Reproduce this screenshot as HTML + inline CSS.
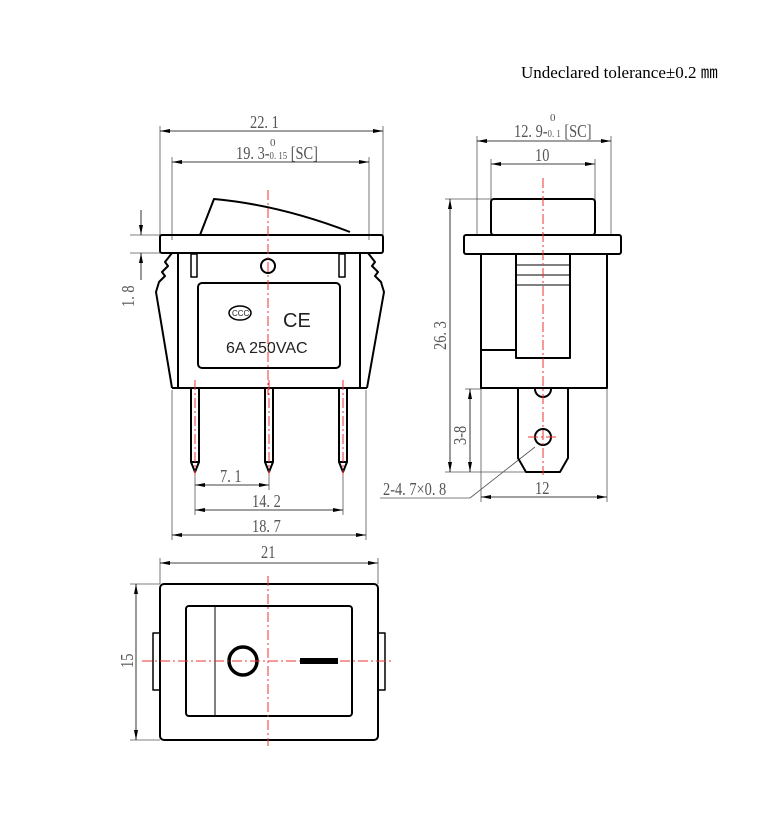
<!DOCTYPE html><html><head><style>body{margin:0;background:#fff}svg{display:block}</style></head><body>
<svg width="782" height="837" viewBox="0 0 782 837" xmlns="http://www.w3.org/2000/svg" font-family="Liberation Serif, serif">
<defs><marker id="a" viewBox="0 0 10 4" refX="10" refY="2" markerWidth="10" markerHeight="4" orient="auto-start-reverse" markerUnits="userSpaceOnUse"><path d="M0,0L10,2L0,4z" fill="#000"/></marker></defs>
<text x="521" y="78" font-size="17">Undeclared tolerance±0.2 ㎜</text>
<g stroke="#555" stroke-width="0.8" fill="none">
<line x1="160" y1="126" x2="160" y2="236"/><line x1="383" y1="126" x2="383" y2="236"/>
<line x1="172" y1="157" x2="172" y2="240"/><line x1="369" y1="157" x2="369" y2="240"/>
<line x1="130" y1="235" x2="160" y2="235"/><line x1="130" y1="253" x2="160" y2="253"/>
<line x1="172" y1="390" x2="172" y2="540"/><line x1="366" y1="390" x2="366" y2="540"/>
<line x1="195" y1="472" x2="195" y2="515"/><line x1="269" y1="472" x2="269" y2="490"/><line x1="343" y1="472" x2="343" y2="515"/>
<line x1="477" y1="136" x2="477" y2="236"/><line x1="611" y1="136" x2="611" y2="236"/>
<line x1="491" y1="159" x2="491" y2="200"/><line x1="595" y1="159" x2="595" y2="200"/>
<line x1="445" y1="199" x2="491" y2="199"/><line x1="445" y1="472" x2="530" y2="472"/><line x1="465" y1="389" x2="481" y2="389"/>
<line x1="481" y1="388" x2="481" y2="502"/><line x1="607" y1="388" x2="607" y2="502"/>
<line x1="535" y1="447" x2="470" y2="498"/><line x1="470" y1="498" x2="380" y2="498"/>
<line x1="160" y1="558" x2="160" y2="584"/><line x1="378" y1="558" x2="378" y2="584"/>
<line x1="130" y1="584" x2="160" y2="584"/><line x1="130" y1="740" x2="160" y2="740"/>
</g>
<g stroke="#000" stroke-width="0.8" marker-start="url(#a)" marker-end="url(#a)">
<line x1="160" y1="131" x2="383" y2="131"/><line x1="172" y1="162" x2="369" y2="162"/>
<line x1="195" y1="485" x2="269" y2="485"/><line x1="195" y1="510" x2="343" y2="510"/><line x1="172" y1="535" x2="366" y2="535"/>
<line x1="477" y1="141" x2="611" y2="141"/><line x1="491" y1="164" x2="595" y2="164"/>
<line x1="450" y1="199" x2="450" y2="472"/><line x1="470" y1="389" x2="470" y2="472"/><line x1="481" y1="497" x2="607" y2="497"/>
<line x1="160" y1="563" x2="378" y2="563"/><line x1="136" y1="584" x2="136" y2="740"/>
</g>
<g stroke="#000" stroke-width="0.8"><line x1="141" y1="210" x2="141" y2="235" marker-end="url(#a)"/><line x1="141" y1="280" x2="141" y2="253" marker-end="url(#a)"/></g>
<g fill="#555" font-size="18">
<text transform="translate(250,128) scale(0.8,1)">22. 1</text>
<text transform="translate(236,159) scale(0.8,1)">19. 3-<tspan font-size="11">0. 15</tspan> [SC]</text><text x="270" y="146" font-size="11">0</text>
<text transform="translate(220,482) scale(0.8,1)">7. 1</text><text transform="translate(252,507) scale(0.8,1)">14. 2</text><text transform="translate(252,532) scale(0.8,1)">18. 7</text>
<text transform="translate(134,307) rotate(-90) scale(0.8,1)">1. 8</text>
<text transform="translate(514,137) scale(0.8,1)">12. 9-<tspan font-size="11">0. 1</tspan> [SC]</text><text x="550" y="121" font-size="11">0</text>
<text transform="translate(535,161) scale(0.8,1)">10</text><text transform="translate(535,494) scale(0.8,1)">12</text>
<text transform="translate(446,350) rotate(-90) scale(0.8,1)">26. 3</text><text transform="translate(466,445) rotate(-90) scale(0.8,1)">3-8</text>
<text transform="translate(383,495) scale(0.8,1)">2-4. 7×0. 8</text>
<text transform="translate(261,558) scale(0.8,1)">21</text><text transform="translate(133,668) rotate(-90) scale(0.8,1)">15</text>
</g>
<g stroke="#000" stroke-width="2" fill="none" stroke-linejoin="round">
<path d="M200,235L214,199Q280,205 350,232"/>
<rect x="160" y="235" width="223" height="18" rx="2"/>
<path d="M178,253L178,388M360,253L360,388M172,388L367,388"/>
<path d="M172,253L165,262L168,266L162,272L165,276L159,282L156,292L172,388"/>
<path d="M368,253L375,262L372,266L378,272L375,276L381,282L384,292L367,388"/>
<rect x="198" y="283" width="142" height="85" rx="4"/>
<rect x="191" y="388" width="8" height="74"/><path d="M191,462L195,472L199,462"/>
<rect x="265" y="388" width="8" height="74"/><path d="M265,462L269,472L273,462"/>
<rect x="339" y="388" width="8" height="74"/><path d="M339,462L343,472L347,462"/>
<circle cx="268" cy="266" r="7"/>
<rect x="191" y="254" width="6" height="23" stroke-width="1.5"/><rect x="339" y="254" width="6" height="23" stroke-width="1.5"/>
<rect x="491" y="199" width="104" height="36" rx="3"/>
<rect x="464" y="235" width="157" height="19" rx="2"/>
<rect x="481" y="254" width="126" height="134"/>
<path d="M516,254L516,358L570,358L570,254M481,350L516,350"/>
<path d="M518,388L518,458L526,472L560,472L568,458L568,388"/>
<circle cx="543" cy="437" r="8"/><path d="M535,389A8,8 0 0 0 551,389"/>
<rect x="160" y="584" width="218" height="156" rx="4"/>
<rect x="186" y="606" width="166" height="110" rx="3"/>
<rect x="153" y="633" width="7" height="57" stroke-width="1.5"/><rect x="378" y="633" width="7" height="57" stroke-width="1.5"/>
<circle cx="243" cy="661" r="14" stroke-width="3.5"/>
</g>
<g stroke="#000" stroke-width="1" fill="none">
<line x1="516" y1="265" x2="570" y2="265"/><line x1="516" y1="275" x2="570" y2="275"/><line x1="516" y1="285" x2="570" y2="285"/>
<line x1="215" y1="607" x2="215" y2="715"/>
</g>
<g font-family="Liberation Sans, sans-serif" fill="#222">
<text x="283" y="327" font-size="20">CE</text><text x="226" y="353" font-size="16">6A 250VAC</text>
<ellipse cx="240" cy="313" rx="11" ry="7" fill="none" stroke="#000" stroke-width="1.5"/><text x="232" y="316" font-size="8">CCC</text>
</g>
<g stroke="#e33" stroke-width="1" stroke-dasharray="10,3,2,3" fill="none">
<line x1="268" y1="190" x2="268" y2="395"/><line x1="195" y1="380" x2="195" y2="475"/><line x1="269" y1="380" x2="269" y2="475"/><line x1="343" y1="380" x2="343" y2="475"/>
<line x1="543" y1="178" x2="543" y2="475"/><line x1="528" y1="437" x2="558" y2="437"/>
<line x1="268" y1="576" x2="268" y2="746"/><line x1="142" y1="661" x2="394" y2="661"/>
</g>
<rect x="300" y="658" width="38" height="6" fill="#000"/>
</svg></body></html>
